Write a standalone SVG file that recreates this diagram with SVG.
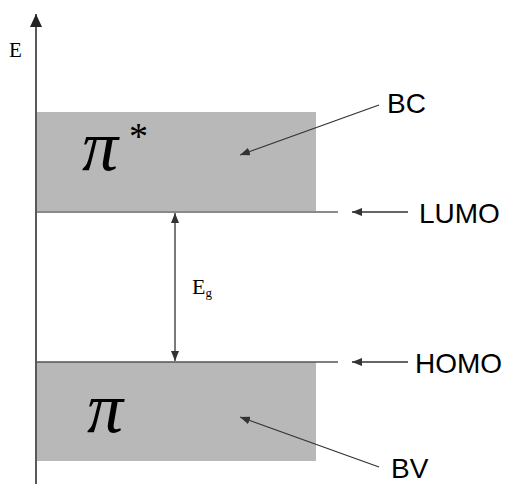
<svg xmlns="http://www.w3.org/2000/svg" width="506" height="484" viewBox="0 0 506 484">
<style>
.band{fill:#b8b8b8}
.lbl{font-family:"Liberation Sans",Arial,sans-serif;font-size:28px;fill:#000}
.ser{font-family:"Liberation Serif","Times New Roman",serif;fill:#000}
.pi{font-family:"Liberation Serif","Times New Roman",serif;font-style:italic;font-size:72px;fill:#000}
.con{stroke:#333;stroke-width:1.3;fill:none}
</style>
<defs>
<marker id="ah" markerWidth="10" markerHeight="8" refX="10" refY="4" orient="auto" markerUnits="userSpaceOnUse">
<path d="M0,0 L10,4 L0,8 Z" fill="#333"/>
</marker>
<marker id="ahs" markerWidth="10" markerHeight="8" refX="10" refY="4" orient="auto-start-reverse" markerUnits="userSpaceOnUse">
<path d="M0,0 L10,4 L0,8 Z" fill="#333"/>
</marker>
<marker id="axh" markerWidth="13" markerHeight="12" refX="13" refY="6" orient="auto" markerUnits="userSpaceOnUse">
<path d="M0,0 L13,6 L0,12 Z" fill="#222"/>
</marker>
</defs>

<g id="band-pistar">
<rect class="band" x="37" y="112" width="279" height="100"/>
<text class="pi" x="82" y="170">π</text>
<text class="ser" x="129" y="149" font-size="38">*</text>
</g>
<g id="band-pi">
<rect class="band" x="37" y="362" width="279" height="99"/>
<text class="pi" x="87" y="432">π</text>
</g>
<g id="level-lumo">
<line x1="37" y1="212" x2="338" y2="212" stroke="#8a8a8a" stroke-width="2"/>
</g>
<g id="level-homo">
<line x1="37" y1="362" x2="338" y2="362" stroke="#555" stroke-width="1.5"/>
</g>
<g id="axis">
<line x1="36" y1="484" x2="36" y2="14" stroke="#222" stroke-width="1.5" marker-end="url(#axh)"/>
<text class="ser" x="9" y="57" font-size="21">E</text>
</g>
<g id="label-BC"><text class="lbl" x="387" y="113">BC</text></g>
<g id="label-LUMO"><text class="lbl" x="419" y="223">LUMO</text></g>
<g id="label-HOMO"><text class="lbl" x="415" y="373">HOMO</text></g>
<g id="label-BV"><text class="lbl" x="391" y="478">BV</text></g>
<g id="label-Eg"><text class="ser" x="192" y="294" font-size="22">E<tspan font-size="13" dy="3">g</tspan></text></g>

<g id="connectors">
<line class="con" x1="379" y1="105" x2="240" y2="155" marker-end="url(#ah)"/>
<line class="con" x1="379" y1="467" x2="240" y2="417" marker-end="url(#ah)"/>
<line class="con" x1="408" y1="212" x2="352" y2="212" marker-end="url(#ah)"/>
<line class="con" x1="408" y1="362" x2="352" y2="362" marker-end="url(#ah)"/>
<line class="con" x1="175" y1="213" x2="175" y2="361" marker-start="url(#ahs)" marker-end="url(#ah)"/>
</g>
</svg>
